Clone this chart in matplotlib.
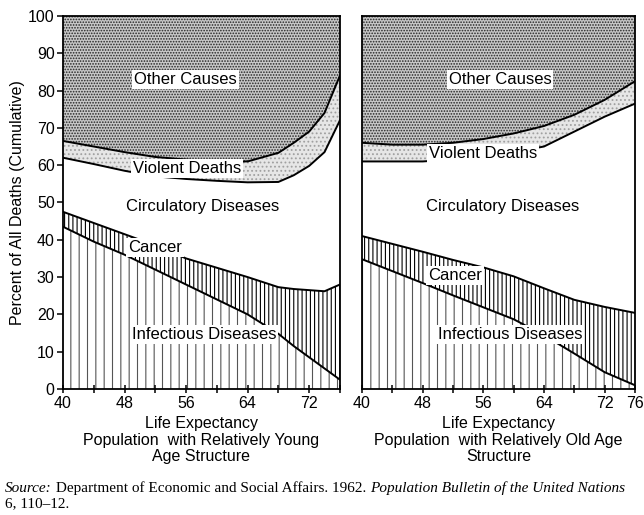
import matplotlib
matplotlib.use('Agg')
import matplotlib.pyplot as plt

plt.rcParams['font.family'] = ['Liberation Sans', 'DejaVu Sans']
plt.rcParams['hatch.linewidth'] = 0.8

# cumulative percent of all deaths
young_age = [40, 44, 48, 52, 56, 60, 64, 68, 70, 72, 74, 76]
young_infectious = [43.5, 39.5, 36, 32, 28, 24, 20, 14.8, 11.5, 8.5, 5.5, 2.5]
young_cancer = [47.5, 44.5, 41.5, 38.5, 35, 32.5, 30, 27.3, 26.8, 26.5, 26.2, 28]
young_circulatory = [62, 60.3, 58.5, 57, 56.3, 55.8, 55.4, 55.5, 57.3, 59.8, 63.5, 72]
young_violent = [66.5, 65, 63.5, 62.2, 61.5, 61, 61, 63.3, 66, 69, 74, 84]

old_age = [40, 44, 48, 52, 56, 60, 64, 68, 72, 76]
old_infectious = [34.8, 31.6, 28.4, 25.1, 21.9, 18.7, 14.4, 9.5, 4.5, 1]
old_cancer = [41, 38.9, 36.8, 34.6, 32.6, 30.2, 27, 23.9, 22, 20.4]
old_circulatory = [61, 61, 61, 61.5, 62.5, 63.5, 65, 69, 73, 76.5]
old_violent = [66, 65.5, 65.5, 66, 67, 68.5, 70.5, 73.5, 77.5, 82.5]

young_ticks = [40, 48, 56, 64, 72]
old_ticks = [40, 48, 56, 64, 72, 76]

young_labels = {'Other Causes': (55.9, 83), 'Violent Deaths': (56.1, 59.2),
                'Circulatory Diseases': (58.2, 49), 'Cancer': (52, 38),
                'Infectious Diseases': (58.3, 14.5)}
old_labels = {'Other Causes': (58.2, 83), 'Violent Deaths': (56, 63),
              'Circulatory Diseases': (58.5, 49), 'Cancer': (52.3, 30.3),
              'Infectious Diseases': (59.5, 14.5)}


def draw_panel(ax, age, inf, can, circ, vio, ticks, labels, xlabel):
    ax.fill_between(age, 0, inf, facecolor='white', edgecolor='#555555', hatch='||', linewidth=0)
    ax.fill_between(age, inf, can, facecolor='white', edgecolor='black', hatch='||||', linewidth=0)
    ax.fill_between(age, circ, vio, facecolor='#e6e6e6', edgecolor='#a0a0a0', hatch='....', linewidth=0)
    ax.fill_between(age, vio, 100, facecolor='#c8c8c8', edgecolor='#262626', hatch='......', linewidth=0)
    for line in (inf, can, circ, vio):
        ax.plot(age, line, color='black', lw=1.4)
    for name, (x, y) in labels.items():
        ax.text(x, y, name, ha='center', va='center', fontsize=12,
                bbox=dict(facecolor='white', edgecolor='none', pad=1.5))
    ax.set_xlim(40, 76)
    ax.set_ylim(0, 100)
    ax.set_xticks(range(40, 77, 4), minor=True)
    ax.set_xticks(ticks)
    ax.tick_params(axis='x', which='both', direction='inout', length=6, width=1.1,
                   labelsize=11.5, pad=2)
    ax.set_xlabel(xlabel, fontsize=11.5, linespacing=1.1, labelpad=4)
    for s in ax.spines.values():
        s.set_linewidth(1.3)


fig = plt.figure(figsize=(6.44, 5.15), dpi=100)
ax1 = fig.add_axes([0.0978, 0.2447, 0.430, 0.7243])
ax2 = fig.add_axes([0.562, 0.2447, 0.424, 0.7243])

draw_panel(ax1, young_age, young_infectious, young_cancer, young_circulatory, young_violent,
           young_ticks, young_labels,
           'Life Expectancy\nPopulation  with Relatively Young\nAge Structure')
draw_panel(ax2, old_age, old_infectious, old_cancer, old_circulatory, old_violent,
           old_ticks, old_labels,
           'Life Expectancy\nPopulation  with Relatively Old Age\nStructure')

ax1.set_yticks(range(0, 101, 10))
ax1.tick_params(axis='y', direction='out', length=4, width=1.1, labelsize=11.5, pad=2)
ax1.set_ylabel('Percent of All Deaths (Cumulative)', fontsize=11.5, labelpad=2)
ax2.set_yticks([])

# source line, italic pieces chained one after another
serif = ['Liberation Serif', 'DejaVu Serif']
src1 = fig.text(0.008, 0.045, 'Source:', fontsize=11, style='italic', family=serif, va='baseline')
src2 = ax1.annotate(' Department of Economic and Social Affairs. 1962. ', xy=(1, 0), xycoords=src1,
                    va='bottom', fontsize=11, family=serif, annotation_clip=False)
ax1.annotate('Population Bulletin of the United Nations', xy=(1, 0), xycoords=src2,
             va='bottom', fontsize=11, style='italic', family=serif, annotation_clip=False)
fig.text(0.008, 0.015, '6, 110\u201312.', fontsize=11, family=serif, va='baseline')

fig.savefig('out.png', dpi=100)
